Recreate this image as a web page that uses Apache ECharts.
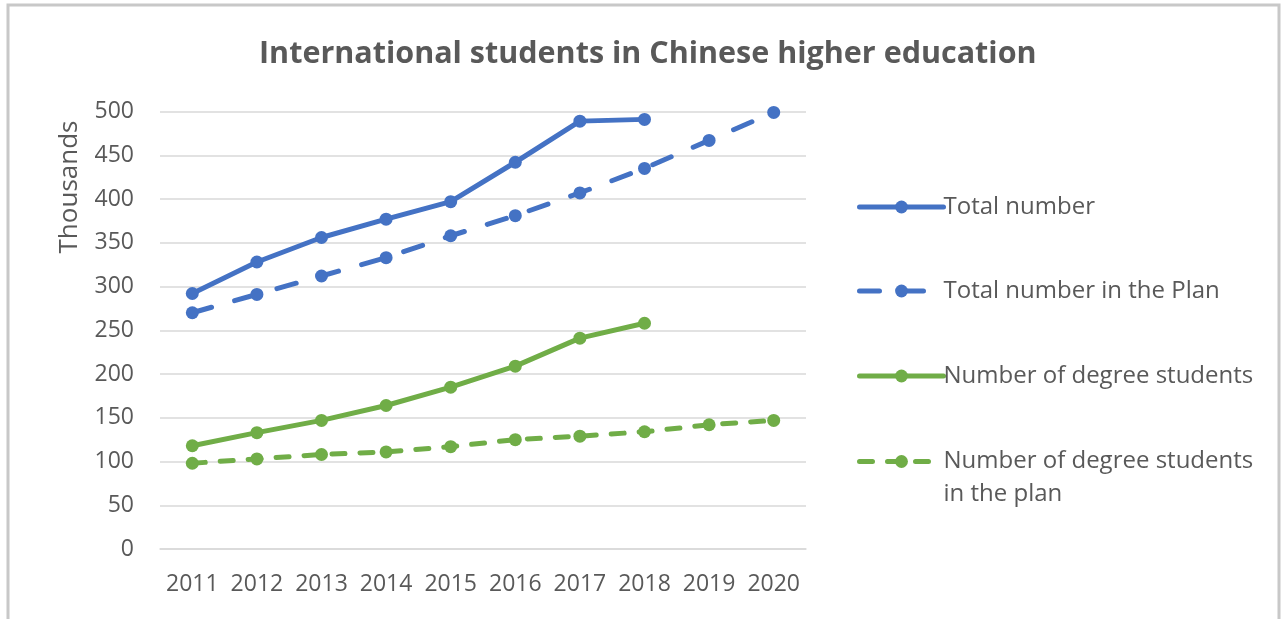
<!DOCTYPE html>
<html>
<head>
<meta charset="utf-8">
<script src="https://cdn.jsdelivr.net/npm/echarts@6/dist/echarts.min.js"></script>
<style>
html,body{margin:0;padding:0;background:#fff;}
#chart{width:1282px;height:619px;}
</style>
</head>
<body>
<div id="chart"></div>
<script>
const years = ['2011','2012','2013','2014','2015','2016','2017','2018','2019','2020'];
const totalNumber = [292, 328, 356, 377, 397, 442, 489, 491, null, null];
const totalPlan = [270, 291, 312, 333, 358, 381, 407, 435, 467, 499];
const degreeNumber = [118, 133, 147, 164, 185, 209, 241, 258, null, null];
const degreePlan = [98, 103, 108, 111, 117, 125, 129, 134, 142, 147];
const yTicks = [0, 50, 100, 150, 200, 250, 300, 350, 400, 450, 500];
const seriesNames = ['Total number', 'Total number in the Plan', 'Number of degree students', 'Number of degree students in the plan'];

const BLUE = '#4472C4', GREEN = '#70AD47', TXT = '#595959';
const FONT = '"Open Sans", sans-serif';

const chart = echarts.init(document.getElementById('chart'));

function mkSeries(name, data, color, dash) {
  return {
    name: name, type: 'line', data: data,
    symbol: 'circle', symbolSize: 13, showSymbol: true,
    connectNulls: false,
    itemStyle: { color: color },
    lineStyle: { color: color, width: 5, type: dash || 'solid', cap: 'round', join: 'round' },
    emphasis: { disabled: true },
    animation: false
  };
}

function mkLegend(name, centerY, extra) {
  return Object.assign({
    data: [name], left: 852, top: centerY - 14, orient: 'vertical',
    itemWidth: 84, itemHeight: 16, itemGap: 0,
    lineStyle: { width: 5 },
    textStyle: { color: TXT, fontSize: 24, fontFamily: FONT, lineHeight: 28, padding: [0,0,0,-5] },
    selectedMode: false
  }, extra || {});
}

chart.setOption({
  backgroundColor: '#fff',
  animation: false,
  title: {
    text: 'International students in Chinese higher education',
    left: 254, top: 34,
    textStyle: { color: TXT, fontSize: 30.5, fontWeight: 'bold', fontFamily: FONT }
  },
  graphic: [
    { type: 'rect', shape: { x: 8, y: 5, width: 1271, height: 640 }, style: { fill: 'none', stroke: '#c8c8c8', lineWidth: 3 }, silent: true },
    { type: 'text', x: 70, y: 187, rotation: Math.PI / 2,
      style: { text: 'Thousands', fill: TXT, font: '26px "Open Sans", sans-serif', align: 'center', verticalAlign: 'middle' } }
  ],
  legend: [
    mkLegend(seriesNames[0], 202),
    mkLegend(seriesNames[1], 286),
    mkLegend(seriesNames[2], 371),
    mkLegend(seriesNames[3], 454, {
      top: 454 - 14 - 33,
      formatter: function () { return '\nNumber of degree students\nin the plan'; },
      textStyle: { color: TXT, fontSize: 24, fontFamily: FONT, lineHeight: 33, padding: [0, 0, 0, -5] }
    })
  ],
  grid: { left: 160, right: 476, top: 111.5, bottom: 70, containLabel: false },
  xAxis: {
    type: 'category', data: years, boundaryGap: true,
    axisLine: { show: true, lineStyle: { color: '#d9d9d9', width: 1.5 } },
    axisTick: { show: false },
    axisLabel: { color: TXT, fontSize: 23, fontFamily: FONT, margin: 24, interval: 0 }
  },
  yAxis: {
    type: 'value', min: yTicks[0], max: yTicks[yTicks.length - 1], interval: 50,
    axisLine: { show: false }, axisTick: { show: false },
    splitLine: { lineStyle: { color: '#d9d9d9', width: 1.5 } },
    axisLabel: { color: TXT, fontSize: 23, fontFamily: FONT, margin: 26 }
  },
  series: [
    mkSeries(seriesNames[0], totalNumber, BLUE),
    mkSeries(seriesNames[1], totalPlan, BLUE, [20, 24]),
    mkSeries(seriesNames[2], degreeNumber, GREEN),
    mkSeries(seriesNames[3], degreePlan, GREEN, [13, 15])
  ]
});
</script>
</body>
</html>
